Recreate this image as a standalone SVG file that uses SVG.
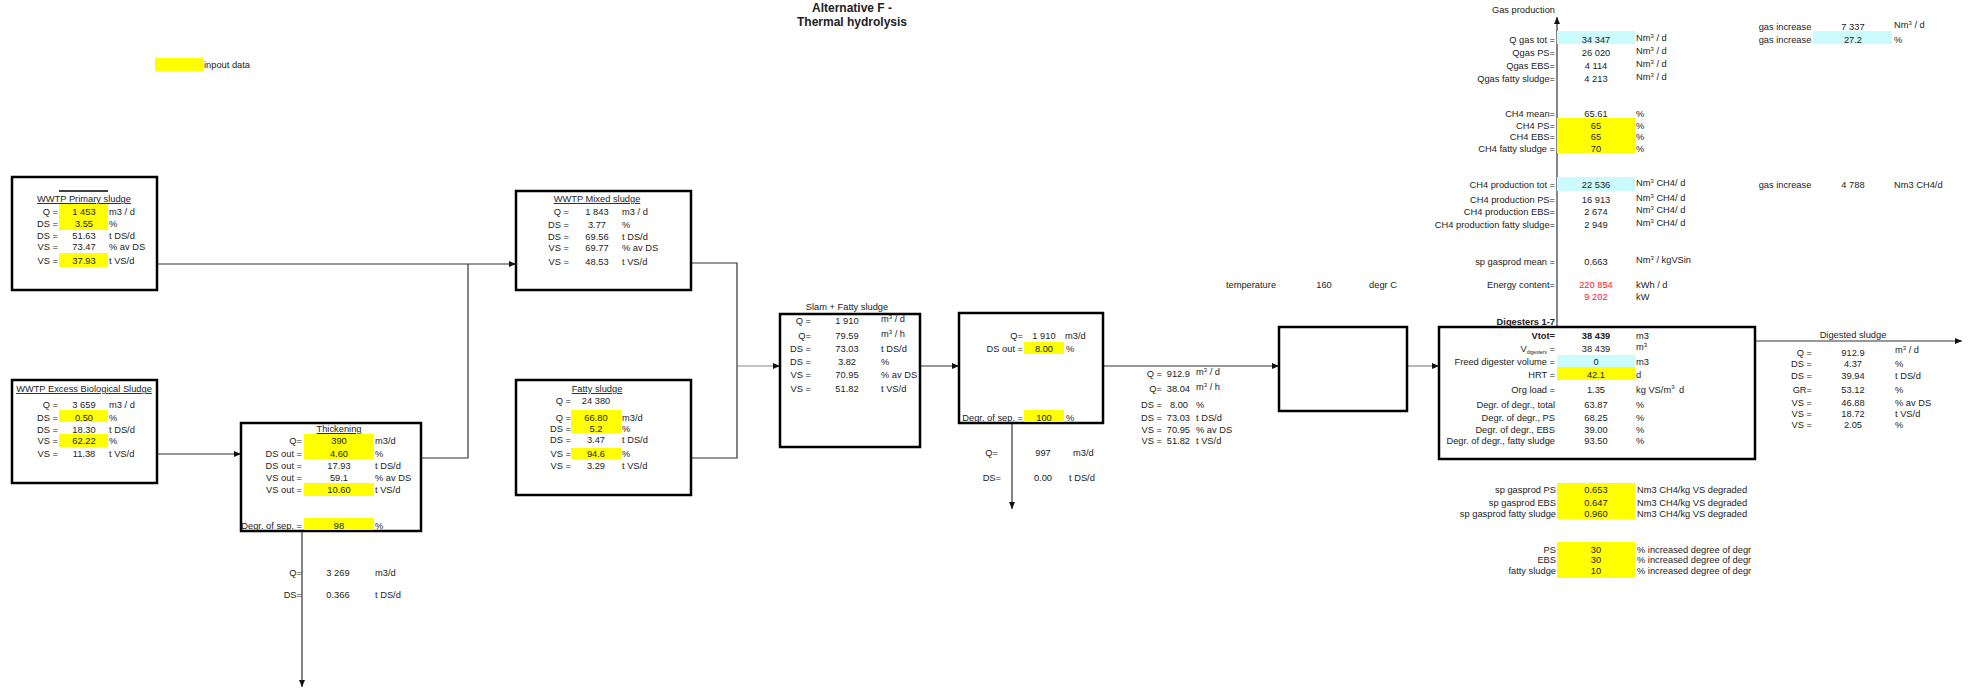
<svg xmlns="http://www.w3.org/2000/svg" width="1977" height="691" viewBox="0 0 1977 691">
<style>
text{font-family:"Liberation Sans",Arial,sans-serif;font-size:9.3px;fill:#222}
.l{text-anchor:end}
.v{text-anchor:middle}
.u{text-anchor:start}
.t{text-anchor:middle;text-decoration:underline}
.b{font-weight:bold}
.red{fill:#ff2020}
.box{fill:#fff;stroke:#000;stroke-width:2.5}
.y{fill:#ffff00}
.c{fill:#ccfbfd}
.con path{fill:none;stroke:#333;stroke-width:1.2}
.con path.g{stroke:#888}
</style>
<defs>
<marker id="ah" markerWidth="7" markerHeight="6" refX="7" refY="3" orient="auto" markerUnits="userSpaceOnUse"><path d="M0,0 L7,3 L0,6 z" fill="#111"/></marker>
</defs>
<rect width="1977" height="691" fill="#fff"/>

<g id="title">
<text x="852" y="12" class="v b" style="font-size:12px">Alternative F -</text>
<text x="852" y="26" class="v b" style="font-size:12px">Thermal hydrolysis</text>
</g>

<g id="legend">
<rect x="155" y="58" width="48" height="13" class="y"/>
<text x="204" y="67.5" class="u">inpout data</text>
</g>

<g id="connectors" class="con">
<path d="M157,264 H516" marker-end="url(#ah)"/>
<path d="M421,458 H468 V264"/>
<path d="M157,454 H241" marker-end="url(#ah)"/>
<path d="M302,531 V687" marker-end="url(#ah)"/>
<path d="M691,263 H737 V458 H691"/>
<path d="M737,366 H780" class="g" marker-end="url(#ah)"/>
<path d="M920,366 H959" marker-end="url(#ah)"/>
<path d="M1012,423 V509" marker-end="url(#ah)"/>
<path d="M1103,366 H1279" marker-end="url(#ah)"/>
<path d="M1407,366 H1439" class="g" marker-end="url(#ah)"/>
<path d="M1557,327 V17" marker-end="url(#ah)"/>
<path d="M1755,341 H1962" marker-end="url(#ah)"/>
</g>

<g id="primary">
<rect x="12" y="177" width="145" height="113" class="box"/>
<line x1="59" y1="191" x2="108" y2="191" stroke="#000" stroke-width="1.5"/>
<rect x="59" y="203" width="49" height="27" class="y"/>
<rect x="59" y="253" width="49" height="14" class="y"/>
<text x="84" y="202" class="t">WWTP Primary sludge</text>
<text x="58" y="214.5" class="l">Q =</text><text x="84" y="214.5" class="v">1 453</text><text x="109" y="214.5" class="u">m3 / d</text>
<text x="58" y="226.5" class="l">DS =</text><text x="84" y="226.5" class="v">3.55</text><text x="109" y="226.5" class="u">%</text>
<text x="58" y="238.5" class="l">DS =</text><text x="84" y="238.5" class="v">51.63</text><text x="109" y="238.5" class="u">t DS/d</text>
<text x="58" y="250" class="l">VS =</text><text x="84" y="250" class="v">73.47</text><text x="109" y="250" class="u">% av DS</text>
<text x="58" y="263.5" class="l">VS =</text><text x="84" y="263.5" class="v">37.93</text><text x="109" y="263.5" class="u">t VS/d</text>
</g>

<g id="excess">
<rect x="12" y="380" width="145" height="103" class="box"/>
<rect x="59" y="410" width="49" height="12" class="y"/>
<rect x="59" y="434" width="49" height="13" class="y"/>
<text x="84" y="392" class="t">WWTP Excess Biological Sludge</text>
<text x="58" y="407.5" class="l">Q =</text><text x="84" y="407.5" class="v">3 659</text><text x="109" y="407.5" class="u">m3 / d</text>
<text x="58" y="420.5" class="l">DS =</text><text x="84" y="420.5" class="v">0.50</text><text x="109" y="420.5" class="u">%</text>
<text x="58" y="432.5" class="l">DS =</text><text x="84" y="432.5" class="v">18.30</text><text x="109" y="432.5" class="u">t DS/d</text>
<text x="58" y="443.5" class="l">VS =</text><text x="84" y="443.5" class="v">62.22</text><text x="109" y="443.5" class="u">%</text>
<text x="58" y="456.5" class="l">VS =</text><text x="84" y="456.5" class="v">11.38</text><text x="109" y="456.5" class="u">t VS/d</text>
</g>

<g id="thickening">
<rect x="241" y="423" width="180" height="108" class="box"/>
<rect x="304" y="434" width="70" height="25" class="y"/>
<rect x="304" y="483" width="70" height="13" class="y"/>
<rect x="304" y="518" width="70" height="12" class="y"/>
<text x="339" y="432" class="t">Thickening</text>
<text x="302" y="443.5" class="l">Q=</text><text x="339" y="443.5" class="v">390</text><text x="375" y="443.5" class="u">m3/d</text>
<text x="302" y="456.5" class="l">DS out =</text><text x="339" y="456.5" class="v">4.60</text><text x="375" y="456.5" class="u">%</text>
<text x="302" y="468.5" class="l">DS out =</text><text x="339" y="468.5" class="v">17.93</text><text x="375" y="468.5" class="u">t DS/d</text>
<text x="302" y="480.5" class="l">VS out =</text><text x="339" y="480.5" class="v">59.1</text><text x="375" y="480.5" class="u">% av DS</text>
<text x="302" y="492.5" class="l">VS out =</text><text x="339" y="492.5" class="v">10.60</text><text x="375" y="492.5" class="u">t VS/d</text>
<text x="302" y="528.5" class="l">Degr. of sep. =</text><text x="339" y="528.5" class="v">98</text><text x="375" y="528.5" class="u">%</text>
</g>

<g id="thickening-reject">
<text x="302" y="575.5" class="l">Q=</text><text x="338" y="575.5" class="v">3 269</text><text x="375" y="575.5" class="u">m3/d</text>
<text x="302" y="597.5" class="l">DS=</text><text x="338" y="597.5" class="v">0.366</text><text x="375" y="597.5" class="u">t DS/d</text>
</g>

<g id="mixed">
<rect x="516" y="191" width="175" height="99" class="box"/>
<text x="597" y="202" class="t">WWTP Mixed sludge</text>
<text x="569" y="214.5" class="l">Q =</text><text x="597" y="214.5" class="v">1 843</text><text x="622" y="214.5" class="u">m3 / d</text>
<text x="569" y="227.5" class="l">DS =</text><text x="597" y="227.5" class="v">3.77</text><text x="622" y="227.5" class="u">%</text>
<text x="569" y="239.5" class="l">DS =</text><text x="597" y="239.5" class="v">69.56</text><text x="622" y="239.5" class="u">t DS/d</text>
<text x="569" y="250.5" class="l">VS =</text><text x="597" y="250.5" class="v">69.77</text><text x="622" y="250.5" class="u">% av DS</text>
<text x="569" y="264.5" class="l">VS =</text><text x="597" y="264.5" class="v">48.53</text><text x="622" y="264.5" class="u">t VS/d</text>
</g>

<g id="fatty">
<rect x="516" y="380" width="175" height="115" class="box"/>
<rect x="571" y="410" width="50" height="23" class="y"/>
<rect x="571" y="448" width="50" height="11" class="y"/>
<text x="597" y="392" class="t">Fatty sludge</text>
<text x="571" y="404" class="l">Q =</text><text x="596" y="404" class="v">24 380</text>
<text x="571" y="420.5" class="l">Q =</text><text x="596" y="420.5" class="v">66.80</text><text x="622" y="420.5" class="u">m3/d</text>
<text x="571" y="431.5" class="l">DS =</text><text x="596" y="431.5" class="v">5.2</text><text x="622" y="431.5" class="u">%</text>
<text x="571" y="442.5" class="l">DS =</text><text x="596" y="442.5" class="v">3.47</text><text x="622" y="442.5" class="u">t DS/d</text>
<text x="571" y="456.5" class="l">VS =</text><text x="596" y="456.5" class="v">94.6</text><text x="622" y="456.5" class="u">%</text>
<text x="571" y="468.5" class="l">VS =</text><text x="596" y="468.5" class="v">3.29</text><text x="622" y="468.5" class="u">t VS/d</text>
</g>

<g id="slam">
<rect x="780" y="314" width="140" height="133" class="box"/>
<text x="847" y="310" class="v">Slam + Fatty sludge</text>
<text x="811" y="323.5" class="l">Q =</text><text x="847" y="323.5" class="v">1 910</text><text x="881" y="322" class="u">m<tspan dy="-3.5" font-size="6">3</tspan><tspan dy="3.5"> / d</tspan></text>
<text x="811" y="338.5" class="l">Q=</text><text x="847" y="338.5" class="v">79.59</text><text x="881" y="337" class="u">m<tspan dy="-3.5" font-size="6">3</tspan><tspan dy="3.5"> / h</tspan></text>
<text x="811" y="351.5" class="l">DS =</text><text x="847" y="351.5" class="v">73.03</text><text x="881" y="351.5" class="u">t DS/d</text>
<text x="811" y="364.5" class="l">DS =</text><text x="847" y="364.5" class="v">3.82</text><text x="881" y="364.5" class="u">%</text>
<text x="811" y="377.5" class="l">VS =</text><text x="847" y="377.5" class="v">70.95</text><text x="881" y="377.5" class="u">% av DS</text>
<text x="811" y="391.5" class="l">VS =</text><text x="847" y="391.5" class="v">51.82</text><text x="881" y="391.5" class="u">t VS/d</text>
</g>

<g id="dewatering">
<rect x="959" y="313" width="144" height="110" class="box"/>
<rect x="1024" y="342" width="40" height="12" class="y"/>
<rect x="1024" y="410" width="40" height="12" class="y"/>
<text x="1023" y="338.5" class="l">Q=</text><text x="1044" y="338.5" class="v">1 910</text><text x="1065" y="338.5" class="u">m3/d</text>
<text x="1023" y="351.5" class="l">DS out =</text><text x="1044" y="351.5" class="v">8.00</text><text x="1066" y="351.5" class="u">%</text>
<text x="1023" y="420.5" class="l">Degr. of sep. =</text><text x="1044" y="420.5" class="v">100</text><text x="1066" y="420.5" class="u">%</text>
</g>

<g id="dewatering-reject">
<text x="998" y="455.5" class="l">Q=</text><text x="1043" y="455.5" class="v">997</text><text x="1073" y="455.5" class="u">m3/d</text>
<text x="1001" y="480.5" class="l">DS=</text><text x="1043" y="480.5" class="v">0.00</text><text x="1069" y="480.5" class="u">t DS/d</text>
</g>

<g id="dewatered-flow">
<text x="1162" y="376.5" class="l">Q =</text><text x="1190" y="376.5" class="l">912.9</text><text x="1196" y="375" class="u">m<tspan dy="-3.5" font-size="6">3</tspan><tspan dy="3.5"> / d</tspan></text>
<text x="1162" y="391.5" class="l">Q=</text><text x="1190" y="391.5" class="l">38.04</text><text x="1196" y="390" class="u">m<tspan dy="-3.5" font-size="6">3</tspan><tspan dy="3.5"> / h</tspan></text>
<text x="1162" y="407.5" class="l">DS =</text><text x="1188" y="407.5" class="l">8.00</text><text x="1196" y="407.5" class="u">%</text>
<text x="1162" y="420.5" class="l">DS =</text><text x="1190" y="420.5" class="l">73.03</text><text x="1196" y="420.5" class="u">t DS/d</text>
<text x="1162" y="432.5" class="l">VS =</text><text x="1190" y="432.5" class="l">70.95</text><text x="1196" y="432.5" class="u">% av DS</text>
<text x="1162" y="443.5" class="l">VS =</text><text x="1190" y="443.5" class="l">51.82</text><text x="1196" y="443.5" class="u">t VS/d</text>
</g>

<g id="temperature">
<text x="1251" y="287.5" class="v">temperature</text>
<text x="1324" y="287.5" class="v">160</text>
<text x="1383" y="287.5" class="v">degr C</text>
</g>

<g id="hydrolysis">
<rect x="1279" y="327" width="128" height="84" class="box"/>
</g>

<g id="digesters">
<rect x="1439" y="327" width="316" height="132" class="box"/>
<rect x="1557" y="355" width="78" height="12" class="c"/>
<rect x="1557" y="367" width="78" height="13" class="y"/>
<text x="1555" y="324.5" class="l b">Digesters 1-7</text>
<text x="1555" y="338.5" class="l b">Vtot=</text><text x="1596" y="338.5" class="v b">38 439</text><text x="1636" y="338.5" class="u">m3</text>
<text x="1555" y="351.5" class="l">V<tspan font-size="5" dy="2">digesters</tspan><tspan dy="-2"> =</tspan></text><text x="1596" y="351.5" class="v">38 439</text><text x="1636" y="350" class="u">m<tspan dy="-3.5" font-size="6">3</tspan></text>
<text x="1555" y="364.5" class="l">Freed digester volume =</text><text x="1596" y="364.5" class="v">0</text><text x="1636" y="364.5" class="u">m3</text>
<text x="1555" y="377.5" class="l">HRT =</text><text x="1596" y="377.5" class="v">42.1</text><text x="1636" y="377.5" class="u">d</text>
<text x="1555" y="392.5" class="l">Org load =</text><text x="1596" y="392.5" class="v">1.35</text><text x="1636" y="392.5" class="u">kg VS/m<tspan dy="-3.5" font-size="6">3·</tspan><tspan dy="3.5"> d</tspan></text>
<text x="1555" y="407.5" class="l">Degr. of degr., total</text><text x="1596" y="407.5" class="v">63.87</text><text x="1636" y="407.5" class="u">%</text>
<text x="1555" y="420.5" class="l">Degr. of degr., PS</text><text x="1596" y="420.5" class="v">68.25</text><text x="1636" y="420.5" class="u">%</text>
<text x="1555" y="432.5" class="l">Degr. of degr., EBS</text><text x="1596" y="432.5" class="v">39.00</text><text x="1636" y="432.5" class="u">%</text>
<text x="1555" y="443.5" class="l">Degr. of degr., fatty sludge</text><text x="1596" y="443.5" class="v">93.50</text><text x="1636" y="443.5" class="u">%</text>
</g>

<g id="gas-production">
<rect x="1557" y="31" width="78" height="13" class="c"/>
<rect x="1557" y="118" width="78" height="35" class="y"/>
<rect x="1557" y="177" width="78" height="14" class="c"/>
<text x="1555" y="12.5" class="l">Gas production</text>
<text x="1555" y="42.5" class="l">Q gas tot =</text><text x="1596" y="42.5" class="v">34 347</text><text x="1636" y="41" class="u">Nm<tspan dy="-3.5" font-size="6">3</tspan><tspan dy="3.5"> / d</tspan></text>
<text x="1555" y="55.5" class="l">Qgas PS=</text><text x="1596" y="55.5" class="v">26 020</text><text x="1636" y="54" class="u">Nm<tspan dy="-3.5" font-size="6">3</tspan><tspan dy="3.5"> / d</tspan></text>
<text x="1555" y="68.5" class="l">Qgas EBS=</text><text x="1596" y="68.5" class="v">4 114</text><text x="1636" y="67" class="u">Nm<tspan dy="-3.5" font-size="6">3</tspan><tspan dy="3.5"> / d</tspan></text>
<text x="1555" y="81.5" class="l">Qgas fatty sludge=</text><text x="1596" y="81.5" class="v">4 213</text><text x="1636" y="80" class="u">Nm<tspan dy="-3.5" font-size="6">3</tspan><tspan dy="3.5"> / d</tspan></text>
<text x="1555" y="116.5" class="l">CH4 mean=</text><text x="1596" y="116.5" class="v">65.61</text><text x="1636" y="116.5" class="u">%</text>
<text x="1555" y="128.5" class="l">CH4 PS=</text><text x="1596" y="128.5" class="v">65</text><text x="1636" y="128.5" class="u">%</text>
<text x="1555" y="139.5" class="l">CH4 EBS=</text><text x="1596" y="139.5" class="v">65</text><text x="1636" y="139.5" class="u">%</text>
<text x="1555" y="151.5" class="l">CH4 fatty sludge =</text><text x="1596" y="151.5" class="v">70</text><text x="1636" y="151.5" class="u">%</text>
<text x="1555" y="187.5" class="l">CH4 production tot =</text><text x="1596" y="187.5" class="v">22 536</text><text x="1636" y="186" class="u">Nm<tspan dy="-3.5" font-size="6">3</tspan><tspan dy="3.5"> CH4/ d</tspan></text>
<text x="1555" y="202.5" class="l">CH4 production PS=</text><text x="1596" y="202.5" class="v">16 913</text><text x="1636" y="201" class="u">Nm<tspan dy="-3.5" font-size="6">3</tspan><tspan dy="3.5"> CH4/ d</tspan></text>
<text x="1555" y="214.5" class="l">CH4 production EBS=</text><text x="1596" y="214.5" class="v">2 674</text><text x="1636" y="213" class="u">Nm<tspan dy="-3.5" font-size="6">3</tspan><tspan dy="3.5"> CH4/ d</tspan></text>
<text x="1555" y="227.5" class="l">CH4 production fatty sludge=</text><text x="1596" y="227.5" class="v">2 949</text><text x="1636" y="226" class="u">Nm<tspan dy="-3.5" font-size="6">3</tspan><tspan dy="3.5"> CH4/ d</tspan></text>
<text x="1555" y="264.5" class="l">sp gasprod mean =</text><text x="1596" y="264.5" class="v">0.663</text><text x="1636" y="263" class="u">Nm<tspan dy="-3.5" font-size="6">3</tspan><tspan dy="3.5"> / kgVSin</tspan></text>
<text x="1555" y="287.5" class="l">Energy content=</text><text x="1596" y="287.5" class="v red">220 854</text><text x="1636" y="287.5" class="u">kWh / d</text>
<text x="1596" y="299.5" class="v red">9 202</text><text x="1636" y="299.5" class="u">kW</text>
</g>

<g id="gas-increase">
<rect x="1813" y="31" width="79" height="13" class="c"/>
<text x="1785" y="29.5" class="v">gas increase</text><text x="1853" y="29.5" class="v">7 337</text><text x="1894" y="28" class="u">Nm<tspan dy="-3.5" font-size="6">3</tspan><tspan dy="3.5"> / d</tspan></text>
<text x="1785" y="42.5" class="v">gas increase</text><text x="1853" y="42.5" class="v">27.2</text><text x="1894" y="42.5" class="u">%</text>
<text x="1785" y="187.5" class="v">gas increase</text><text x="1853" y="187.5" class="v">4 788</text><text x="1894" y="187.5" class="u">Nm3 CH4/d</text>
</g>

<g id="digested">
<text x="1853" y="338" class="v">Digested sludge</text>
<text x="1812" y="355.5" class="l">Q =</text><text x="1853" y="355.5" class="v">912.9</text><text x="1895" y="353" class="u">m<tspan dy="-3.5" font-size="6">3</tspan><tspan dy="3.5"> / d</tspan></text>
<text x="1812" y="366.5" class="l">DS =</text><text x="1853" y="366.5" class="v">4.37</text><text x="1895" y="366.5" class="u">%</text>
<text x="1812" y="378.5" class="l">DS =</text><text x="1853" y="378.5" class="v">39.94</text><text x="1895" y="378.5" class="u">t DS/d</text>
<text x="1812" y="392.5" class="l">GR=</text><text x="1853" y="392.5" class="v">53.12</text><text x="1895" y="392.5" class="u">%</text>
<text x="1812" y="405.5" class="l">VS =</text><text x="1853" y="405.5" class="v">46.88</text><text x="1895" y="405.5" class="u">% av DS</text>
<text x="1812" y="416.5" class="l">VS =</text><text x="1853" y="416.5" class="v">18.72</text><text x="1895" y="416.5" class="u">t VS/d</text>
<text x="1812" y="427.5" class="l">VS =</text><text x="1853" y="427.5" class="v">2.05</text><text x="1895" y="427.5" class="u">%</text>
</g>

<g id="specific-gas">
<rect x="1557" y="483" width="78" height="36" class="y"/>
<text x="1556" y="492.5" class="l">sp gasprod PS</text><text x="1596" y="492.5" class="v">0.653</text><text x="1637" y="492.5" class="u">Nm3 CH4/kg VS degraded</text>
<text x="1556" y="505.5" class="l">sp gasprod EBS</text><text x="1596" y="505.5" class="v">0.647</text><text x="1637" y="505.5" class="u">Nm3 CH4/kg VS degraded</text>
<text x="1556" y="516.5" class="l">sp gasprod fatty sludge</text><text x="1596" y="516.5" class="v">0.960</text><text x="1637" y="516.5" class="u">Nm3 CH4/kg VS degraded</text>
</g>

<g id="degradation-increase">
<rect x="1557" y="542" width="78" height="36" class="y"/>
<text x="1556" y="552.5" class="l">PS</text><text x="1596" y="552.5" class="v">30</text><text x="1637" y="552.5" class="u">% increased degree of degr</text>
<text x="1556" y="562.5" class="l">EBS</text><text x="1596" y="562.5" class="v">30</text><text x="1637" y="562.5" class="u">% increased degree of degr</text>
<text x="1556" y="573.5" class="l">fatty sludge</text><text x="1596" y="573.5" class="v">10</text><text x="1637" y="573.5" class="u">% increased degree of degr</text>
</g>
</svg>
